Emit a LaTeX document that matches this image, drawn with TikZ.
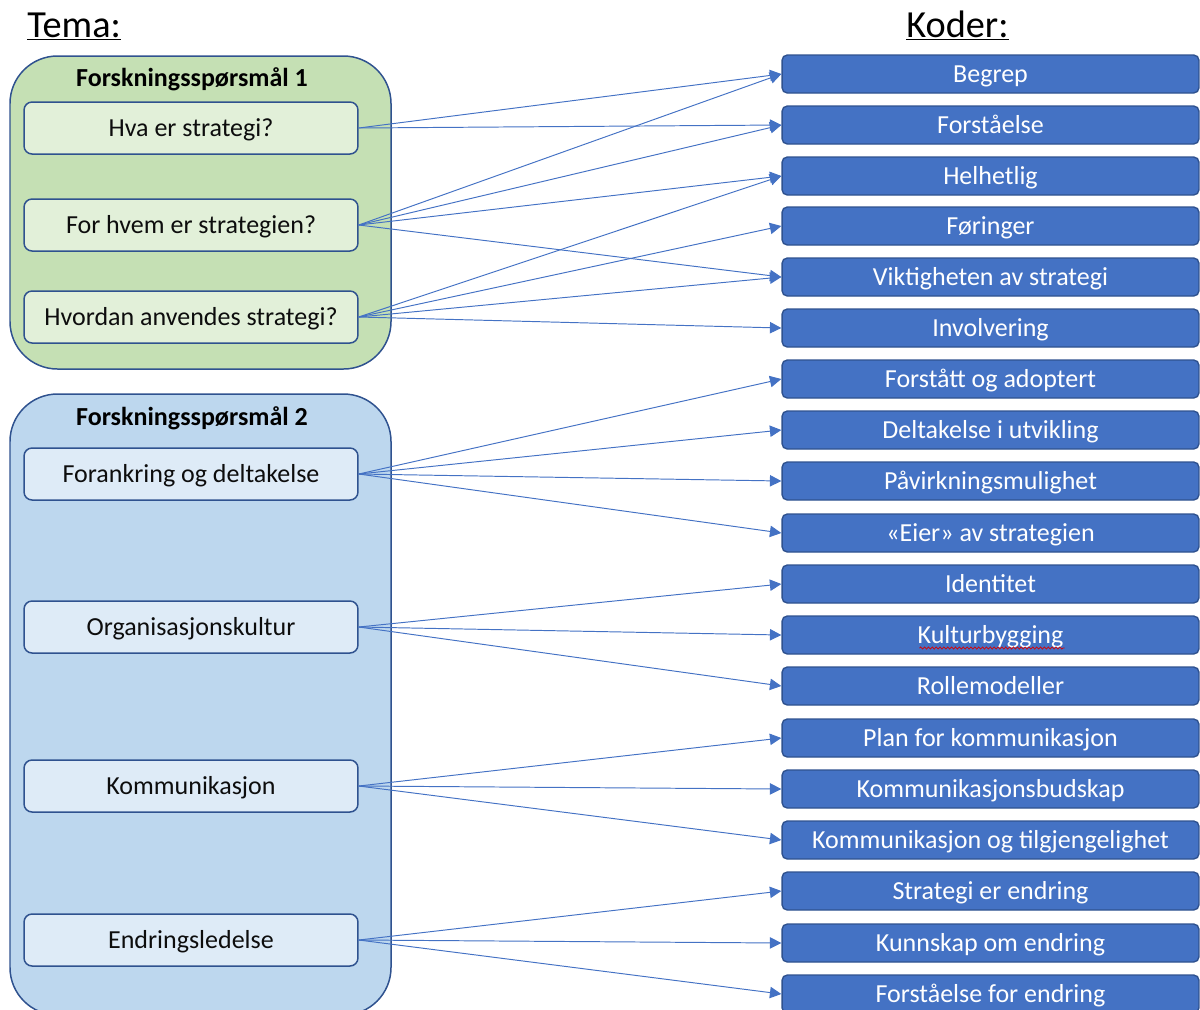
\documentclass[tikz,border=0pt]{standalone}
\usepackage{fontspec}
\setmainfont{Carlito}
\usepackage{xcolor}
\usepackage{tikz}
\usetikzlibrary{
    calc,
    arrows.meta,
    decorations.pathmorphing % For the wavy underline
}
\definecolor{kodeblue}{HTML}{4472C4}
\definecolor{kantblue}{HTML}{2F528F}
\definecolor{gronnut}{HTML}{C5E0B4}
\definecolor{gronninn}{HTML}{E2F0D9}
\definecolor{blaaut}{HTML}{BDD7EE}
\definecolor{blaainn}{HTML}{DEEBF7}
\tikzset{
    kode/.style={draw=kantblue, fill=kodeblue, text=white, line width=0.8pt,
        rounded corners=3pt, minimum width=8.34cm, minimum height=0.76cm,
        inner sep=0pt, text height=9.5pt, text depth=0pt,
        font=\fontsize{14.8}{17}\selectfont},
    tema/.style={draw=kantblue, line width=0.85pt, rounded corners=0.16cm,
        minimum width=6.68cm, minimum height=1.04cm, inner sep=0pt,
        text height=9.5pt, text depth=0pt,
        text=black!95, font=\fontsize{14.8}{17}\selectfont},
    gruppe/.style={draw=kantblue, line width=0.85pt, rounded corners=0.95cm},
    overskrift/.style={inner sep=0pt, text height=9.3pt, text depth=0pt,
        font=\fontsize{14.8}{17}\selectfont\bfseries},
    kolonne/.style={anchor=base west, inner sep=0pt, font=\fontsize{21.8}{25}\selectfont},
    pil/.style={draw=kodeblue, line width=0.55pt, -{Triangle[length=6.5pt,width=6.5pt]}}
}

\begin{document}
\begin{tikzpicture}[x=0.02cm, y=-0.02cm]
        \clip (0,0) rectangle (1200,1009);

        \draw (27,37) node[kolonne](temahead){\underline{Tema:}};
        \draw (906,37) node[kolonne](koderhead){\underline{Koder:}};

        \draw[gruppe, fill=gronnut] (10,56) rectangle (391,369);
        \draw[gruppe, fill=blaaut] (10,394) rectangle (391,1015);

        \draw (192,78) node[overskrift](fs1){Forskningsspørsmål 1};
        \draw (192,417) node[overskrift](fs2){Forskningsspørsmål 2};

        \draw (191,128) node[tema, fill=gronninn](hva){Hva er strategi?};
        \draw (191,225) node[tema, fill=gronninn](hvem){For hvem er strategien?};
        \draw (191,317) node[tema, fill=gronninn](hvordan){Hvordan anvendes strategi?};
        \draw (191,474) node[tema, fill=blaainn](foran){Forankring og deltakelse};
        \draw (191,627) node[tema, fill=blaainn](org){Organisasjonskultur};
        \draw (191,786) node[tema, fill=blaainn](komm){Kommunikasjon};
        \draw (191,940) node[tema, fill=blaainn](endr){Endringsledelse};

        \draw (990.5,74) node[kode](begrep){Begrep};
        \draw (990.5,125) node[kode](forst){Forståelse};
        \draw (990.5,176) node[kode](helhet){Helhetlig};
        \draw (990.5,226) node[kode](foring){Føringer};
        \draw (990.5,277) node[kode](vikt){Viktigheten av strategi};
        \draw (990.5,328) node[kode](invol){Involvering};
        \draw (990.5,379) node[kode](adopt){Forstått og adoptert};
        \draw (990.5,430) node[kode](delt){Deltakelse i utvikling};
        \draw (990.5,481) node[kode](paavirk){Påvirkningsmulighet};
        \draw (990.5,533) node[kode](eier){«Eier» av strategien};
        \draw (990.5,584) node[kode](ident){Identitet};
        \draw (990.5,635) node[kode](kultur){Kulturbygging};
        \draw (990.5,686) node[kode](rolle){Rollemodeller};
        \draw (990.5,738) node[kode](plan){Plan for kommunikasjon};
        \draw (990.5,789) node[kode](budskap){Kommunikasjonsbudskap};
        \draw (990.5,840) node[kode](tilgj){Kommunikasjon og tilgjengelighet};
        \draw (990.5,891) node[kode](strend){Strategi er endring};
        \draw (990.5,943) node[kode](kunn){Kunnskap om endring};
        \draw (990.5,994) node[kode](forend){Forståelse for endring};

        \draw[red!85!black, line width=0.4pt, decorate,
              decoration={snake, amplitude=0.6pt, segment length=2.2pt}]
            ($(kultur.center)+(-71,13)$) -- ($(kultur.center)+(74,13)$);

        \draw[pil] (hva.east) to (begrep.west);
        \draw[pil] (hva.east) to (forst.west);

        \draw[pil] (hvem.east) to (begrep.west);
        \draw[pil] (hvem.east) to (forst.west);
        \draw[pil] (hvem.east) to (helhet.west);
        \draw[pil] (hvem.east) to (vikt.west);

        \draw[pil] (hvordan.east) to (helhet.west);
        \draw[pil] (hvordan.east) to (foring.west);
        \draw[pil] (hvordan.east) to (vikt.west);
        \draw[pil] (hvordan.east) to (invol.west);

        \draw[pil] (foran.east) to (adopt.west);
        \draw[pil] (foran.east) to (delt.west);
        \draw[pil] (foran.east) to (paavirk.west);
        \draw[pil] (foran.east) to (eier.west);

        \draw[pil] (org.east) to (ident.west);
        \draw[pil] (org.east) to (kultur.west);
        \draw[pil] (org.east) to (rolle.west);

        \draw[pil] (komm.east) to (plan.west);
        \draw[pil] (komm.east) to (budskap.west);
        \draw[pil] (komm.east) to (tilgj.west);

        \draw[pil] (endr.east) to (strend.west);
        \draw[pil] (endr.east) to (kunn.west);
        \draw[pil] (endr.east) to (forend.west);
    \end{tikzpicture}
\end{document}
